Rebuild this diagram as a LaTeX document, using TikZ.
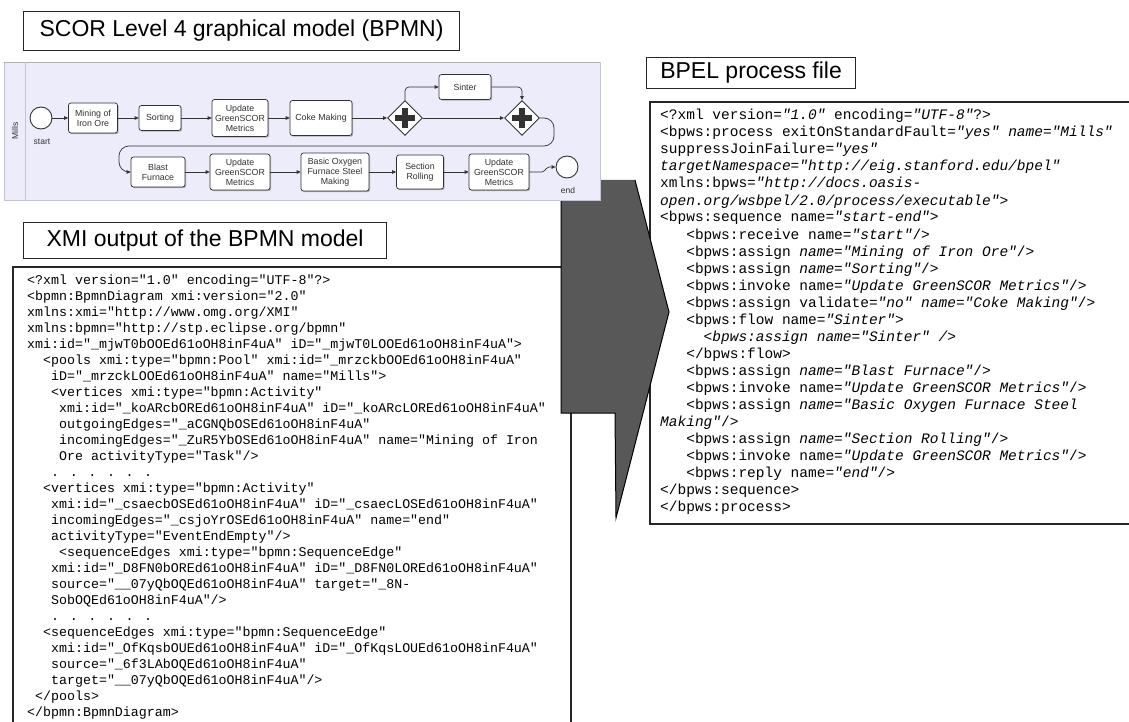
\documentclass[tikz,border=0pt]{standalone}
\usepackage{fontspec}
\setmainfont{Liberation Sans}
\newfontfamily\codefont{Liberation Mono}
\usetikzlibrary{arrows.meta,shapes.geometric,shadows}

\definecolor{lane}{RGB}{236,236,250}
\definecolor{laneedge}{RGB}{196,196,206}
\definecolor{bandgray}{RGB}{88,88,88}
\definecolor{ink}{RGB}{50,50,50}

% one line of the XMI listing: line number, indent (characters), text
\newcommand\xmlline[3]{\node[xmltext] (xml#1) at ({27+#2*7.98},{284.5+(#1-1)*16}) {#3};}
% one line of the BPEL listing
\newcommand\bpelline[3]{\node[bpeltext] (bpel#1) at ({660+#2*8.7},{120+(#1-1)*17}) {#3};}

\begin{document}
\begin{tikzpicture}[x=1pt,y=-1pt,
  xmltext/.style={anchor=base west, inner sep=0pt, font=\codefont\fontsize{13.3}{15}\selectfont},
  bpeltext/.style={anchor=base west, inner sep=0pt, font=\codefont\fontsize{14.5}{17}\selectfont},
  titlebox/.style={draw=black!85, line width=1.1pt, fill=white, anchor=north west,
    inner sep=0pt, font=\fontsize{23}{26}\selectfont},
  panel/.style={draw=black!85, line width=1.1pt, fill=white},
  task/.style={draw=ink, fill=white, rounded corners=2.5pt, line width=0.7pt, align=center,
    inner sep=1pt, font=\fontsize{8.8}{10}\selectfont, text=ink,
    drop shadow={shadow xshift=1.2pt, shadow yshift=-1.2pt, fill=black, opacity=0.25}},
  event/.style={circle, draw=ink, fill=white, line width=0.9pt, minimum size=22pt, inner sep=0pt},
  gate/.style={diamond, draw=ink, fill=white, line width=0.9pt, minimum size=35pt, inner sep=0pt},
  flow/.style={draw=ink, line width=0.7pt, -{Triangle[length=4pt,width=3.6pt]}},
  small/.style={font=\fontsize{8.5}{10}\selectfont, text=ink},
]
\useasboundingbox (0,0) rectangle (1129,722);
\fill[white] (0,0) rectangle (1129,722);
\clip (0,0) rectangle (1129,722);

% text panels
\draw[panel] (13,267) rectangle (571,760);
\draw[panel] (650,102) rectangle (1150,524);

% the big bent arrow from the XMI listing to the BPEL file (its top tucks under the BPMN pool)
\fill[bandgray] (561,180) -- (635,180) -- (669,312) -- (616,518) -- (615,413) -- (561,413) -- cycle;
\draw[black, line width=1pt, line join=miter] (561,180) -- (561,413) -- (615,413) -- (616,518) -- (669,312) -- (635,180);

% BPMN pool
\fill[lane] (4,62) rectangle (600,200);
\draw[laneedge, line width=0.8pt] (4,62) rectangle (600,200);
\draw[black!30, line width=1.5pt] (4,62.5) -- (600,62.5);
\draw[laneedge, line width=0.8pt] (25,62) -- (25,200);
\node[small, rotate=90] (lanename) at (15,131) {Mills};

\node[event] (start) at (41,118) {};
\node[small] (startlbl) at (42,142) {start};
\node[task, minimum width=49pt, minimum height=30pt] (mining) at (93,118) {Mining of\\Iron Ore};
\node[task, minimum width=42pt, minimum height=25pt] (sorting) at (160,118) {Sorting};
\node[task, minimum width=56pt, minimum height=37pt] (upd1) at (240,118) {Update\\GreenSCOR\\Metrics};
\node[task, minimum width=62pt, minimum height=35pt] (coke) at (321,118) {Coke Making};
\node[gate] (fork) at (405,118) {};
\node[task, minimum width=52pt, minimum height=25pt] (sinter) at (465,87) {Sinter};
\node[gate] (join) at (522,118) {};
\foreach \g in {fork,join}{
  \fill[ink] ([xshift=-10pt,yshift=-3pt]\g.center) rectangle ([xshift=10pt,yshift=3pt]\g.center);
  \fill[ink] ([xshift=-3pt,yshift=-10pt]\g.center) rectangle ([xshift=3pt,yshift=10pt]\g.center);
}

\node[task, minimum width=54pt, minimum height=30pt] (blast) at (158,172) {Blast\\Furnace};
\node[task, minimum width=60pt, minimum height=36pt] (upd2) at (240,172) {Update\\GreenSCOR\\Metrics};
\node[task, minimum width=68pt, minimum height=38pt] (bof) at (335,172) {Basic Oxygen\\Furnace Steel\\Making};
\node[task, minimum width=47pt, minimum height=34pt] (rolling) at (420,172) {Section\\Rolling};
\node[task, minimum width=60pt, minimum height=36pt] (upd3) at (499,172) {Update\\GreenSCOR\\Metrics};
\node[event] (end) at (567,167) {};
\node[small] (endlbl) at (568,190) {end};

% sequence flows
\draw[flow] (start) -- (mining);
\draw[flow] (mining) -- (sorting);
\draw[flow] (sorting) -- (upd1);
\draw[flow] (upd1) -- (coke);
\draw[flow] (coke) -- (fork);
\draw[flow, rounded corners=4pt] (fork.north) |- (sinter.west);
\draw[flow, rounded corners=4pt] (sinter.east) -| (join.north);
\draw[flow] (fork.east) -- (join.west);
\draw[flow, rounded corners=10pt] (join.east) -- (554,118) -- (554,146) -- (119,146) -- (119,172) -- (blast.west);
\draw[flow] (blast) -- (upd2);
\draw[flow] (upd2) -- (bof);
\draw[flow] (bof) -- (rolling);
\draw[flow] (rolling) -- (upd3);
\draw[flow, rounded corners=2pt] (upd3.east) -- (544,172) -- (547,167) -- (end.west);

% headings
\node[titlebox, minimum width=436pt, minimum height=39pt] (scortitle) at (23,11) {SCOR Level 4 graphical model (BPMN)};
\node[titlebox, minimum width=363pt, minimum height=36pt] (xmititle) at (23,222) {XMI output of the BPMN model};
\node[titlebox, minimum width=209pt, minimum height=31pt] (bpeltitle) at (646,57) {BPEL process file};

% XMI listing
\xmlline{1}{0}{<?xml version="1.0" encoding="UTF-8"?>}
\xmlline{2}{0}{<bpmn:BpmnDiagram xmi:version="2.0"}
\xmlline{3}{0}{xmlns:xmi="http://www.omg.org/XMI"}
\xmlline{4}{0}{xmlns:bpmn="http://stp.eclipse.org/bpmn"}
\xmlline{5}{0}{xmi:id="\_mjwT0bOOEd61oOH8inF4uA" iD="\_mjwT0LOOEd61oOH8inF4uA">}
\xmlline{6}{2}{<pools xmi:type="bpmn:Pool" xmi:id="\_mrzckbOOEd61oOH8inF4uA"}
\xmlline{7}{3}{iD="\_mrzckLOOEd61oOH8inF4uA" name="Mills">}
\xmlline{8}{3}{<vertices xmi:type="bpmn:Activity"}
\xmlline{9}{4}{xmi:id="\_koARcbOREd61oOH8inF4uA" iD="\_koARcLOREd61oOH8inF4uA"}
\xmlline{10}{4}{outgoingEdges="\_aCGNQbOSEd61oOH8inF4uA"}
\xmlline{11}{4}{incomingEdges="\_ZuR5YbOSEd61oOH8inF4uA" name="Mining of Iron}
\xmlline{12}{4}{Ore activityType="Task"/>}
\xmlline{13}{3}{. . . . . .}
\xmlline{14}{2}{<vertices xmi:type="bpmn:Activity"}
\xmlline{15}{3}{xmi:id="\_csaecbOSEd61oOH8inF4uA" iD="\_csaecLOSEd61oOH8inF4uA"}
\xmlline{16}{3}{incomingEdges="\_csjoYrOSEd61oOH8inF4uA" name="end"}
\xmlline{17}{3}{activityType="EventEndEmpty"/>}
\xmlline{18}{4}{<sequenceEdges xmi:type="bpmn:SequenceEdge"}
\xmlline{19}{3}{xmi:id="\_D8FN0bOREd61oOH8inF4uA" iD="\_D8FN0LOREd61oOH8inF4uA"}
\xmlline{20}{3}{source="\_\_07yQbOQEd61oOH8inF4uA" target="\_8N-}
\xmlline{21}{3}{SobOQEd61oOH8inF4uA"/>}
\xmlline{22}{3}{. . . . . .}
\xmlline{23}{2}{<sequenceEdges xmi:type="bpmn:SequenceEdge"}
\xmlline{24}{3}{xmi:id="\_OfKqsbOUEd61oOH8inF4uA" iD="\_OfKqsLOUEd61oOH8inF4uA"}
\xmlline{25}{3}{source="\_6f3LAbOQEd61oOH8inF4uA"}
\xmlline{26}{3}{target="\_\_07yQbOQEd61oOH8inF4uA"/>}
\xmlline{27}{1}{</pools>}
\xmlline{28}{0}{</bpmn:BpmnDiagram>}

% BPEL listing
\bpelline{1}{0}{<?xml version=\textit{"1.0"} encoding=\textit{"UTF-8"}?>}
\bpelline{2}{0}{<bpws:process exitOnStandardFault=\textit{"yes"} \textit{name="Mills"}}
\bpelline{3}{0}{suppressJoinFailure=\textit{"yes"}}
\bpelline{4}{0}{\textit{targetNamespace="http://eig.stanford.edu/bpel"}}
\bpelline{5}{0}{xmlns:bpws=\textit{"http://docs.oasis-}}
\bpelline{6}{0}{\textit{open.org/wsbpel/2.0/process/executable"}>}
\bpelline{7}{0}{<bpws:sequence name=\textit{"start-end"}>}
\bpelline{8}{3}{<bpws:receive name=\textit{"start"}/>}
\bpelline{9}{3}{<bpws:assign \textit{name="Mining of Iron Ore"}/>}
\bpelline{10}{3}{<bpws:assign \textit{name="Sorting"}/>}
\bpelline{11}{3}{<bpws:invoke name=\textit{"Update GreenSCOR Metrics"}/>}
\bpelline{12}{3}{<bpws:assign validate=\textit{"no" name="Coke Making"}/>}
\bpelline{13}{3}{<bpws:flow name=\textit{"Sinter"}>}
\bpelline{14}{5}{\textit{<bpws:assign name="Sinter" />}}
\bpelline{15}{3}{</bpws:flow>}
\bpelline{16}{3}{<bpws:assign \textit{name="Blast Furnace"}/>}
\bpelline{17}{3}{<bpws:invoke name=\textit{"Update GreenSCOR Metrics"}/>}
\bpelline{18}{3}{<bpws:assign \textit{name="Basic Oxygen Furnace Steel}}
\bpelline{19}{0}{\textit{Making"}/>}
\bpelline{20}{3}{<bpws:assign \textit{name="Section Rolling"}/>}
\bpelline{21}{3}{<bpws:invoke name=\textit{"Update GreenSCOR Metrics"}/>}
\bpelline{22}{3}{<bpws:reply name=\textit{"end"}/>}
\bpelline{23}{0}{</bpws:sequence>}
\bpelline{24}{0}{</bpws:process>}
\end{tikzpicture}
\end{document}
